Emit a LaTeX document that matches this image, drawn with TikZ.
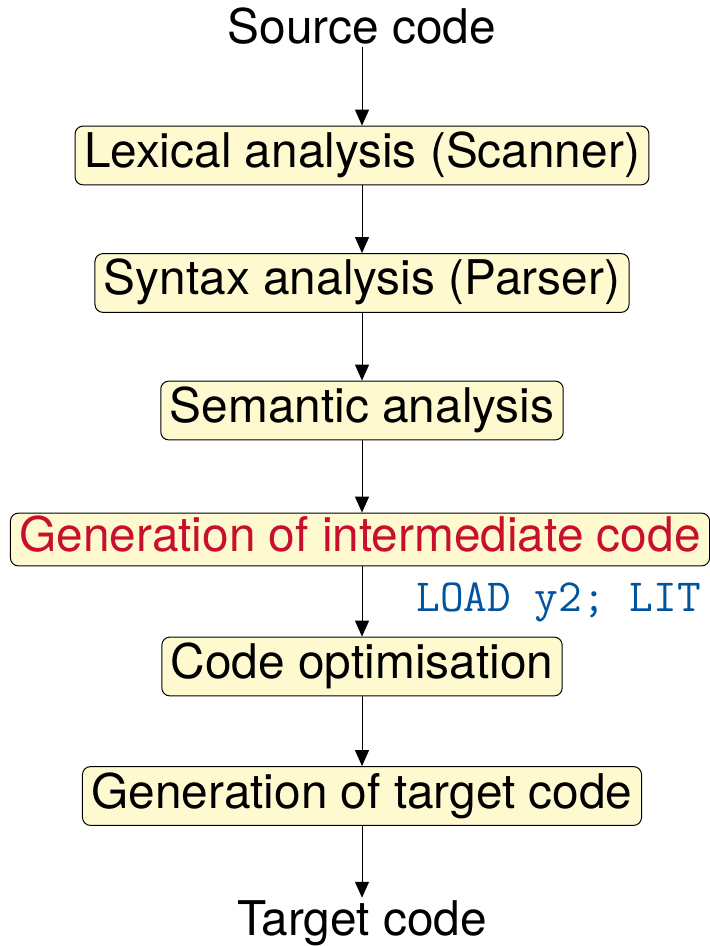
\documentclass[tikz,border=0pt]{standalone}
\usepackage{fontspec}
\setmainfont{TeX Gyre Heros}
\usetikzlibrary{arrows.meta}
\definecolor{boxfill}{RGB}{255,249,208}
\definecolor{hired}{RGB}{200,16,46}
\definecolor{codeblue}{RGB}{0,84,159}
\begin{document}
\begin{tikzpicture}[x=0.5pt,y=-0.5pt,
  phase/.style={draw=black, line width=0.5pt, fill=boxfill, rounded corners=4pt,
    inner xsep=4.5pt, inner ysep=3.2pt, text height=17.5pt, text depth=5.5pt,
    font=\fontsize{23.9}{28}\selectfont},
  endtext/.style={inner sep=1pt, font=\fontsize{23.9}{28}\selectfont},
  arr/.style={draw=black, line width=0.5pt, -{Triangle[width=7pt,length=8pt]}}]
\useasboundingbox (0,0) rectangle (710,946);
\node[endtext, anchor=base] (src) at (362,44) {Source code};
\node[phase] (lex) at (362,155.5) {Lexical analysis (Scanner)};
\node[phase] (syn) at (362,283) {Syntax analysis (Parser)};
\node[phase] (sem) at (362,410.5) {Semantic analysis};
\node[phase, inner ysep=1.7pt, text=hired] (gen) at (360,539.5) {Generation of intermediate code};
\node[anchor=west, inner sep=0pt, text=codeblue, font=\fontsize{23}{26}\ttfamily] (code) at (416,602) {LOAD y2; LIT};
\node[phase] (opt) at (362,666.5) {Code optimisation};
\node[phase] (tgen) at (362,796) {Generation of target code};
\node[endtext, anchor=base] (tgt) at (362,935) {Target code};
\draw[arr] (src) -- (lex);
\draw[arr] (lex) -- (syn);
\draw[arr] (syn) -- (sem);
\draw[arr] (sem) -- (lex.south |- gen.north);
\draw[arr] (lex.south |- gen.south) -- (opt);
\draw[arr] (opt) -- (tgen);
\draw[arr] (tgen) -- (tgt);
\end{tikzpicture}
\end{document}
